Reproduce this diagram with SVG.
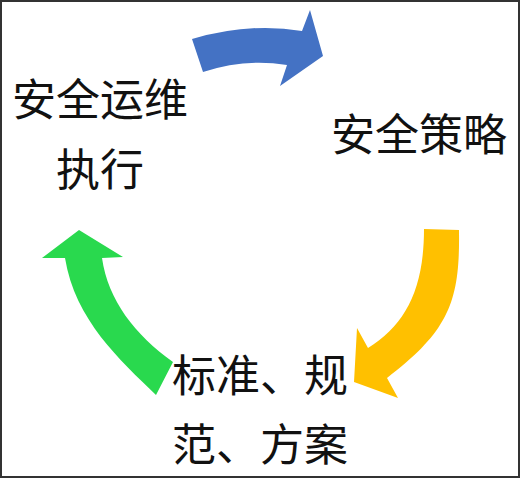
<svg xmlns="http://www.w3.org/2000/svg" width="520" height="478" viewBox="0 0 520 478">
<style>
.t{font-family:"Noto Sans CJK SC","Noto Sans",sans-serif;font-size:44px;fill:#111;text-anchor:middle}
</style>
<rect x="1" y="1" width="518" height="476" fill="#fff" stroke="#333" stroke-width="2"/>
<g id="connectors">
<path id="arrow-blue" d="M192,39 Q250,22 302,31 L310,10 L323,56 L280,86 L287,65 Q245,58 203,72 Z" fill="#4472C4"/>
<path id="arrow-yellow" d="M424,229 L459,230 C460,300 450,330 387,378 L398,398 L354,382 L357,328 L368,348 C405,325 424,290 424,229 Z" fill="#FFC000"/>
<path id="arrow-green" d="M156,395 C120,360 75,320 65,258 L42,258 L79,230 L123,257 L102,258 C108,300 135,335 173,362 Z" fill="#29D94E"/>
</g>
<g id="node-ops">
<text class="t" x="100" y="116">安全运维</text>
<text class="t" x="100" y="186">执行</text>
</g>
<g id="node-policy">
<text class="t" x="419" y="151">安全策略</text>
</g>
<g id="node-standards">
<text class="t" x="260" y="392">标准、规</text>
<text class="t" x="260" y="461">范、方案</text>
</g>
</svg>
